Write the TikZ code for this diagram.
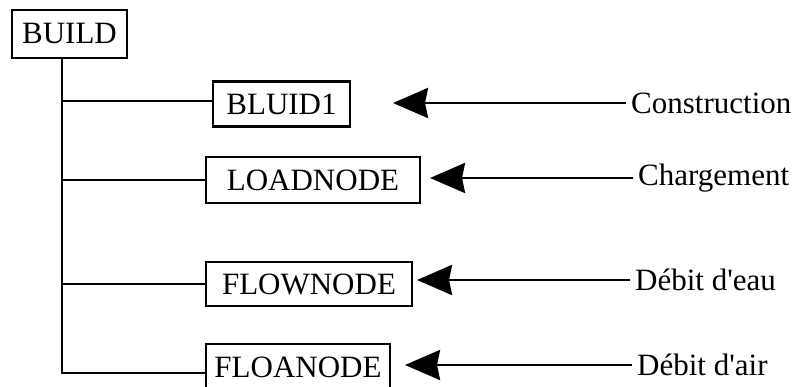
\documentclass[tikz,border=0pt]{standalone}
\usepackage{fontspec}
\setmainfont{Liberation Serif}
\usetikzlibrary{arrows.meta}
\begin{document}
\begin{tikzpicture}[x=1pt,y=-1pt,
  box/.style={draw,line width=2.5pt,inner sep=0pt,font=\fontsize{31}{37}\selectfont},
  lab/.style={anchor=west,inner sep=5pt,font=\fontsize{31}{37}\selectfont},
  wire/.style={line width=2.5pt},
  arr/.style={line width=2.8pt,-{Stealth[length=35pt,width=30pt,inset=3pt]}}]
\clip (0,0) rectangle (799,387);
\fill[white] (0,0) rectangle (799,387);
\node[box,minimum width=115pt,minimum height=48pt] (BUILD) at (69.5,34) {BUILD};
\node[box,minimum width=137pt,minimum height=45pt] (B1) at (281.5,104) {BLUID1};
\node[box,minimum width=214pt,minimum height=46pt] (LN) at (313,180) {LOADNODE};
\node[box,minimum width=206pt,minimum height=44pt] (FW) at (309,284) {FLOWNODE};
\node[box,minimum width=184pt,minimum height=46pt] (FA) at (298,367) {FLOANODE};
\coordinate (tb) at (62,373);
\coordinate (t1) at (62,101);
\coordinate (t2) at (62,180);
\coordinate (t3) at (62,284);
\draw[wire] (BUILD.south -| tb) -- (tb) -- (tb -| FA.west);
\draw[wire] (t1) -- (t1 -| B1.west);
\draw[wire] (t2) -- (t2 -| LN.west);
\draw[wire] (t3) -- (t3 -| FW.west);
\node[lab] (L1) at (626,103) {Construction};
\node[lab] (L2) at (633,178) {Chargement};
\node[lab] (L3) at (630,280) {Débit d\textquotesingle eau};
\node[lab] (L4) at (632,365) {Débit d\textquotesingle air};
\coordinate (a1) at (393,103);
\coordinate (a2) at (430,178);
\coordinate (a3) at (417,280);
\coordinate (a4) at (405,365);
\draw[arr] (L1.west) -- (a1);
\draw[arr] (L2.west) -- (a2);
\draw[arr] (L3.west) -- (a3);
\draw[arr] (L4.west) -- (a4);
\end{tikzpicture}
\end{document}
